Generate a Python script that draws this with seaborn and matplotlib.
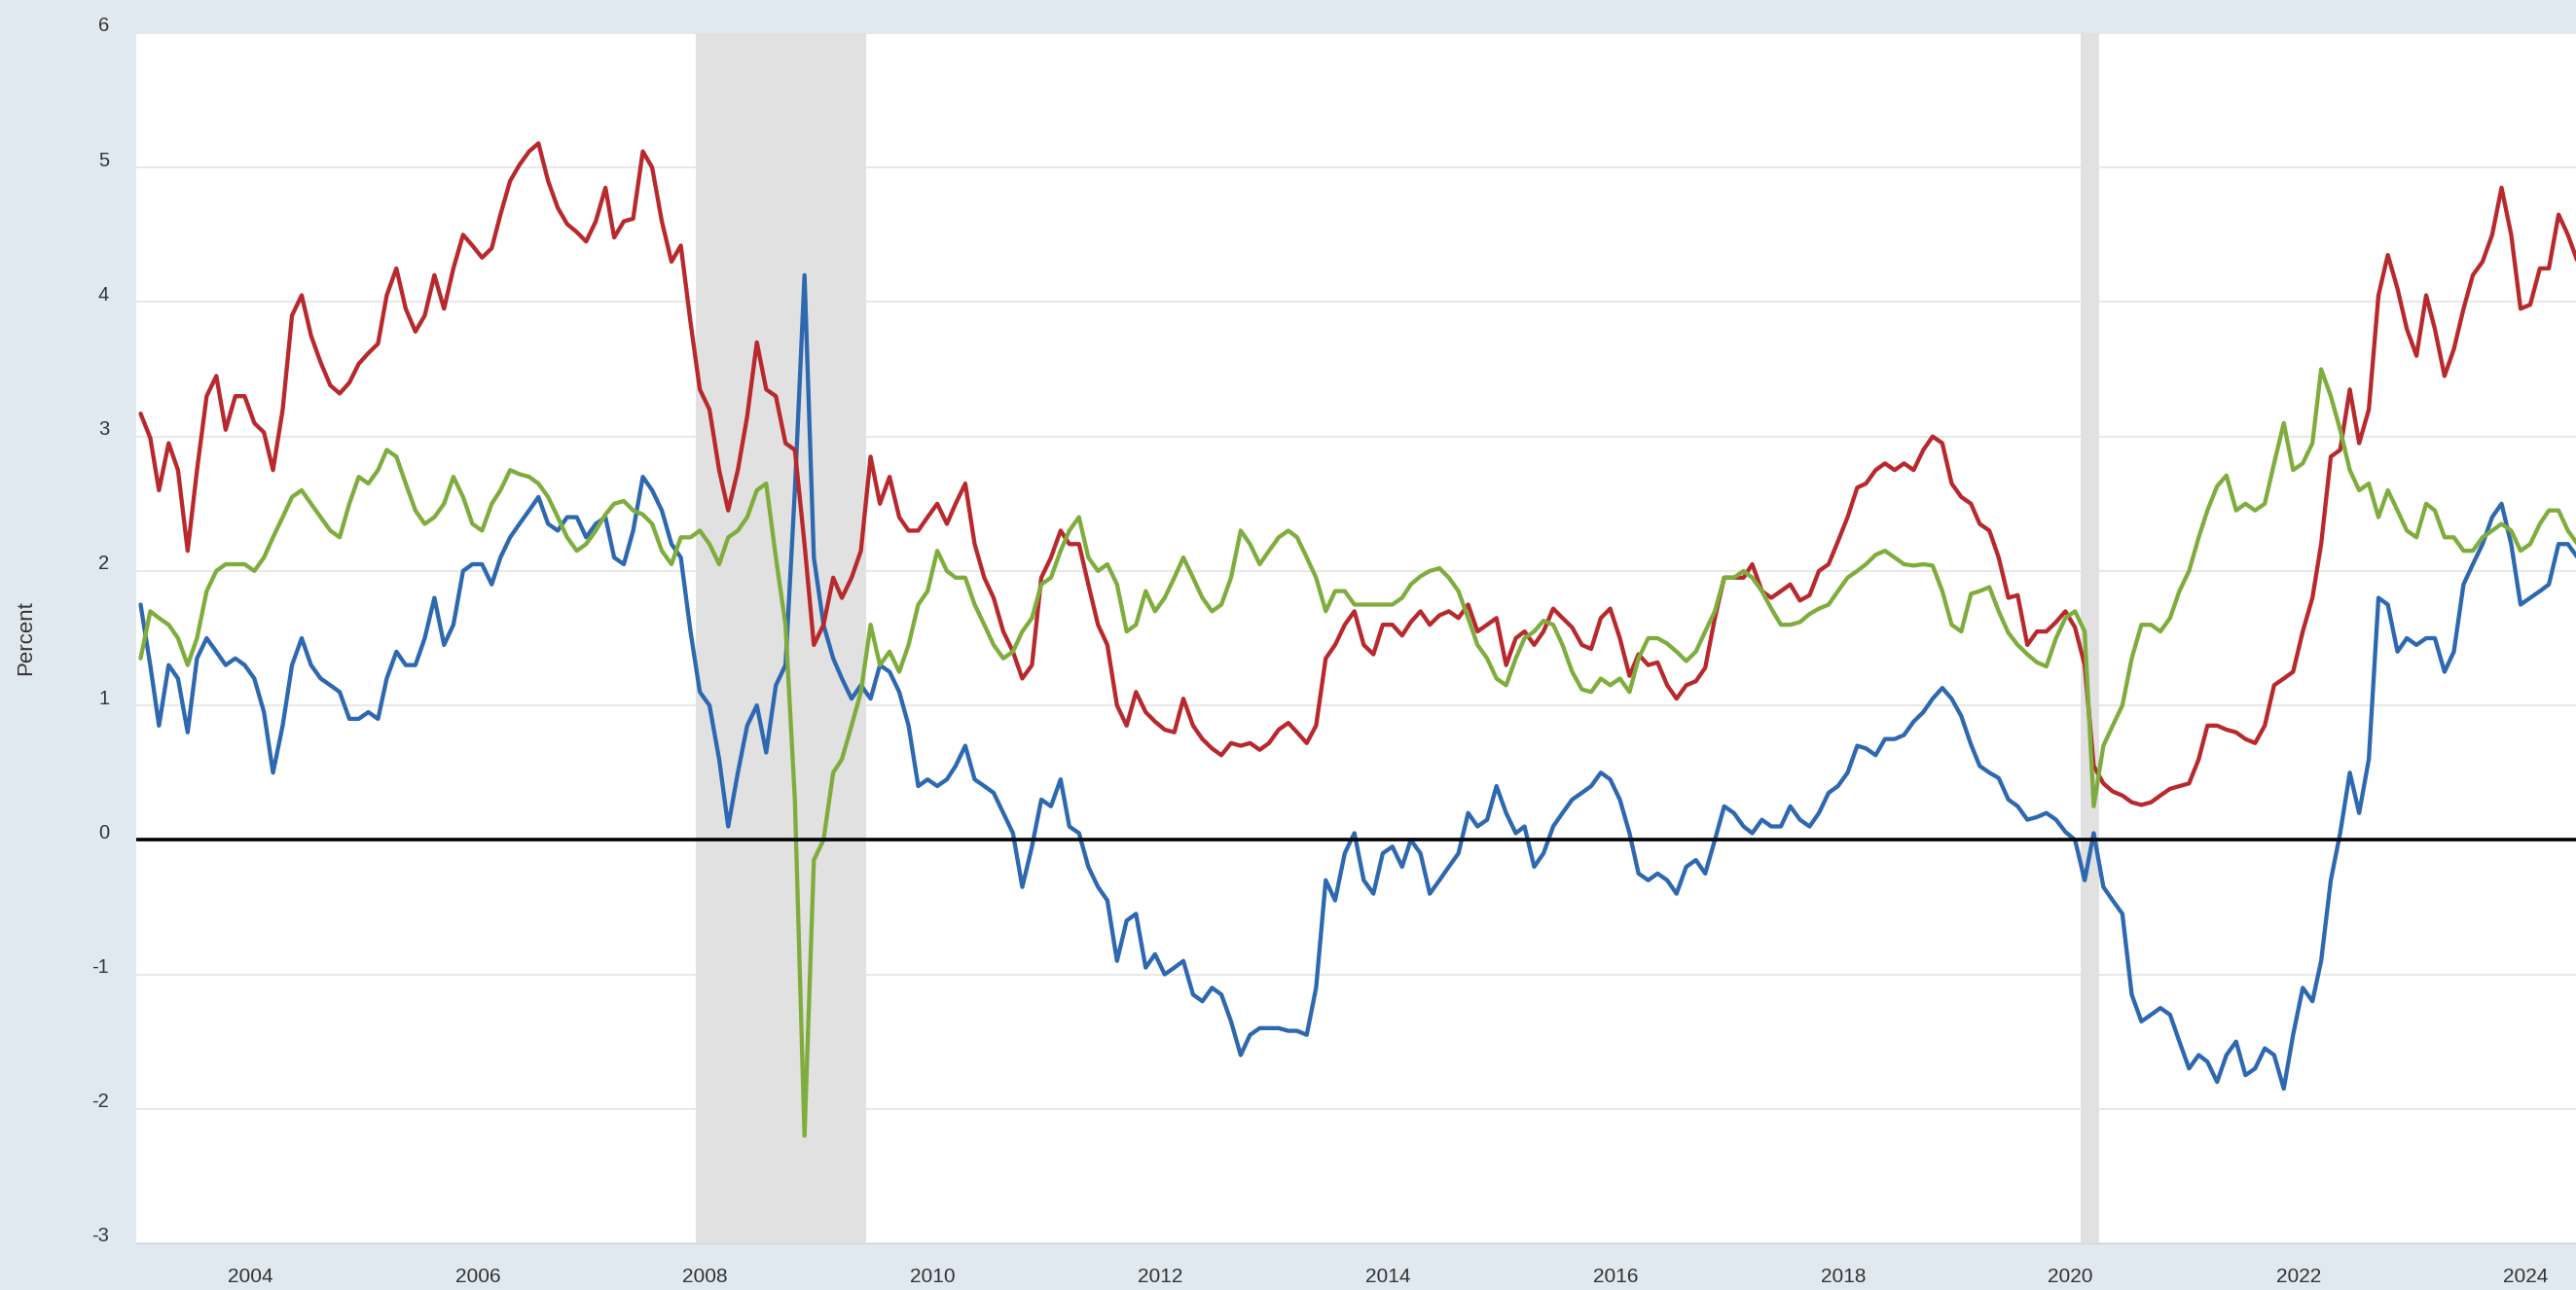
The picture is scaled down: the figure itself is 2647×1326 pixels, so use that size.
import pandas as pd
import matplotlib
matplotlib.use("Agg")
import matplotlib.pyplot as plt
from matplotlib.transforms import ScaledTranslation
import seaborn as sns

# ---- data (monthly readings, percent) ----
nominal_5y = [
    3.17, 2.99, 2.60, 2.95, 2.75, 2.15, 2.75, 3.30, 3.45, 3.05, 3.30, 3.30,  # 2003
    3.10, 3.03, 2.75, 3.20, 3.90, 4.05, 3.75, 3.55, 3.38, 3.32, 3.40, 3.54,  # 2004
    3.62, 3.69, 4.05, 4.25, 3.95, 3.78, 3.90, 4.20, 3.95, 4.25, 4.50, 4.42,  # 2005
    4.33, 4.40, 4.65, 4.90, 5.02, 5.12, 5.18, 4.90, 4.70, 4.58, 4.52, 4.45,  # 2006
    4.60, 4.85, 4.48, 4.60, 4.62, 5.12, 5.00, 4.60, 4.30, 4.42, 3.85, 3.35,  # 2007
    3.20, 2.75, 2.45, 2.75, 3.15, 3.70, 3.35, 3.30, 2.95, 2.90, 2.20, 1.45,  # 2008
    1.60, 1.95, 1.80, 1.95, 2.15, 2.85, 2.50, 2.70, 2.40, 2.30, 2.30, 2.40,  # 2009
    2.50, 2.35, 2.50, 2.65, 2.20, 1.95, 1.80, 1.55, 1.40, 1.20, 1.30, 1.95,  # 2010
    2.10, 2.30, 2.20, 2.20, 1.90, 1.60, 1.45, 1.00, 0.85, 1.10, 0.95, 0.88,  # 2011
    0.82, 0.80, 1.05, 0.85, 0.75, 0.68, 0.63, 0.72, 0.70, 0.72, 0.67, 0.72,  # 2012
    0.82, 0.87, 0.80, 0.72, 0.85, 1.35, 1.45, 1.60, 1.70, 1.45, 1.38, 1.60,  # 2013
    1.60, 1.52, 1.62, 1.70, 1.60, 1.67, 1.70, 1.65, 1.75, 1.55, 1.60, 1.65,  # 2014
    1.30, 1.50, 1.55, 1.45, 1.55, 1.72, 1.65, 1.58, 1.45, 1.42, 1.65, 1.72,  # 2015
    1.50, 1.22, 1.38, 1.30, 1.32, 1.15, 1.05, 1.15, 1.18, 1.28, 1.65, 1.95,  # 2016
    1.95, 1.95, 2.05, 1.85, 1.80, 1.85, 1.90, 1.78, 1.82, 2.00, 2.05, 2.22,  # 2017
    2.40, 2.62, 2.65, 2.75, 2.80, 2.75, 2.80, 2.75, 2.90, 3.00, 2.95, 2.65,  # 2018
    2.55, 2.50, 2.35, 2.30, 2.10, 1.80, 1.82, 1.45, 1.55, 1.55, 1.62, 1.70,  # 2019
    1.58, 1.30, 0.55, 0.42, 0.36, 0.33, 0.28, 0.26, 0.28, 0.33, 0.38, 0.40,  # 2020
    0.42, 0.60, 0.85, 0.85, 0.82, 0.80, 0.75, 0.72, 0.85, 1.15, 1.20, 1.25,  # 2021
    1.55, 1.80, 2.20, 2.85, 2.90, 3.35, 2.95, 3.20, 4.05, 4.35, 4.10, 3.80,  # 2022
    3.60, 4.05, 3.80, 3.45, 3.65, 3.95, 4.20, 4.30, 4.50, 4.85, 4.50, 3.95,  # 2023
    3.98, 4.25, 4.25, 4.65, 4.50, 4.30,                                      # 2024
]

tips_5y = [
    1.75, 1.30, 0.85, 1.30, 1.20, 0.80, 1.35, 1.50, 1.40, 1.30, 1.35, 1.30,
    1.20, 0.95, 0.50, 0.85, 1.30, 1.50, 1.30, 1.20, 1.15, 1.10, 0.90, 0.90,
    0.95, 0.90, 1.20, 1.40, 1.30, 1.30, 1.50, 1.80, 1.45, 1.60, 2.00, 2.05,
    2.05, 1.90, 2.10, 2.25, 2.35, 2.45, 2.55, 2.35, 2.30, 2.40, 2.40, 2.25,
    2.35, 2.40, 2.10, 2.05, 2.30, 2.70, 2.60, 2.45, 2.20, 2.10, 1.55, 1.10,
    1.00, 0.60, 0.10, 0.50, 0.85, 1.00, 0.65, 1.15, 1.30, 2.60, 4.20, 2.10,
    1.60, 1.35, 1.20, 1.05, 1.15, 1.05, 1.30, 1.25, 1.10, 0.85, 0.40, 0.45,
    0.40, 0.45, 0.55, 0.70, 0.45, 0.40, 0.35, 0.20, 0.05, -0.35, -0.05, 0.30,
    0.25, 0.45, 0.10, 0.05, -0.20, -0.35, -0.45, -0.90, -0.60, -0.55, -0.95, -0.85,
    -1.00, -0.95, -0.90, -1.15, -1.20, -1.10, -1.15, -1.35, -1.60, -1.45, -1.40, -1.40,
    -1.40, -1.42, -1.42, -1.45, -1.10, -0.30, -0.45, -0.10, 0.05, -0.30, -0.40, -0.10,
    -0.05, -0.20, 0.00, -0.10, -0.40, -0.30, -0.20, -0.10, 0.20, 0.10, 0.15, 0.40,
    0.20, 0.05, 0.10, -0.20, -0.10, 0.10, 0.20, 0.30, 0.35, 0.40, 0.50, 0.45,
    0.30, 0.05, -0.25, -0.30, -0.25, -0.30, -0.40, -0.20, -0.15, -0.25, 0.00, 0.25,
    0.20, 0.10, 0.05, 0.15, 0.10, 0.10, 0.25, 0.15, 0.10, 0.20, 0.35, 0.40,
    0.50, 0.70, 0.68, 0.63, 0.75, 0.75, 0.78, 0.88, 0.95, 1.05, 1.13, 1.05,
    0.92, 0.71, 0.55, 0.50, 0.46, 0.30, 0.25, 0.15, 0.17, 0.20, 0.15, 0.06,
    0.00, -0.30, 0.05, -0.35, -0.45, -0.55, -1.15, -1.35, -1.30, -1.25, -1.30, -1.50,
    -1.70, -1.60, -1.65, -1.80, -1.60, -1.50, -1.75, -1.70, -1.55, -1.60, -1.85, -1.45,
    -1.10, -1.20, -0.90, -0.30, 0.05, 0.50, 0.20, 0.60, 1.80, 1.75, 1.40, 1.50,
    1.45, 1.50, 1.50, 1.25, 1.40, 1.90, 2.05, 2.20, 2.40, 2.50, 2.20, 1.75,
    1.80, 1.85, 1.90, 2.20, 2.20, 2.10,
]

breakeven_5y = [
    1.35, 1.70, 1.65, 1.60, 1.50, 1.30, 1.50, 1.85, 2.00, 2.05, 2.05, 2.05,
    2.00, 2.10, 2.25, 2.40, 2.55, 2.60, 2.50, 2.40, 2.30, 2.25, 2.50, 2.70,
    2.65, 2.75, 2.90, 2.85, 2.65, 2.45, 2.35, 2.40, 2.50, 2.70, 2.55, 2.35,
    2.30, 2.50, 2.60, 2.75, 2.72, 2.70, 2.65, 2.55, 2.40, 2.25, 2.15, 2.20,
    2.30, 2.42, 2.50, 2.52, 2.45, 2.42, 2.35, 2.15, 2.05, 2.25, 2.25, 2.30,
    2.20, 2.05, 2.25, 2.30, 2.40, 2.60, 2.65, 2.10, 1.60, 0.30, -2.20, -0.15,
    0.00, 0.50, 0.60, 0.85, 1.10, 1.60, 1.30, 1.40, 1.25, 1.45, 1.75, 1.85,
    2.15, 2.00, 1.95, 1.95, 1.75, 1.60, 1.45, 1.35, 1.40, 1.55, 1.65, 1.90,
    1.95, 2.15, 2.30, 2.40, 2.10, 2.00, 2.05, 1.90, 1.55, 1.60, 1.85, 1.70,
    1.80, 1.95, 2.10, 1.95, 1.80, 1.70, 1.75, 1.95, 2.30, 2.20, 2.05, 2.15,
    2.25, 2.30, 2.25, 2.10, 1.95, 1.70, 1.85, 1.85, 1.75, 1.75, 1.75, 1.75,
    1.75, 1.80, 1.90, 1.96, 2.00, 2.02, 1.95, 1.85, 1.65, 1.45, 1.35, 1.20,
    1.15, 1.35, 1.50, 1.55, 1.63, 1.60, 1.45, 1.25, 1.12, 1.10, 1.20, 1.15,
    1.20, 1.10, 1.35, 1.50, 1.50, 1.46, 1.40, 1.33, 1.40, 1.55, 1.70, 1.95,
    1.95, 2.00, 1.95, 1.85, 1.72, 1.60, 1.60, 1.62, 1.68, 1.72, 1.75, 1.85,
    1.95, 2.00, 2.05, 2.12, 2.15, 2.10, 2.05, 2.04, 2.05, 2.04, 1.85, 1.60,
    1.55, 1.83, 1.85, 1.88, 1.70, 1.54, 1.45, 1.38, 1.32, 1.29, 1.50, 1.65,
    1.70, 1.55, 0.25, 0.70, 0.85, 1.00, 1.35, 1.60, 1.60, 1.55, 1.65, 1.85,
    2.00, 2.25, 2.45, 2.63, 2.71, 2.45, 2.50, 2.45, 2.50, 2.80, 3.10, 2.75,
    2.80, 2.95, 3.50, 3.30, 3.05, 2.75, 2.60, 2.65, 2.40, 2.60, 2.45, 2.30,
    2.25, 2.50, 2.45, 2.25, 2.25, 2.15, 2.15, 2.25, 2.30, 2.35, 2.30, 2.15,
    2.20, 2.35, 2.45, 2.45, 2.30, 2.20,
]

series_names = ["5-Year TIPS", "5-Year Treasury", "5-Year Breakeven"]
series_colors = ["#2d68b0", "#b8292d", "#7fad3d"]
recessions = [("2007-12-01", "2009-06-01"), ("2020-02-01", "2020-04-01")]
y_ticks = [-3, -2, -1, 0, 1, 2, 3, 4, 5, 6]
x_tick_years = [2004, 2006, 2008, 2010, 2012, 2014, 2016, 2018, 2020, 2022, 2024]

dates = pd.date_range("2003-01-01", "2024-06-01", freq="MS") + pd.Timedelta(days=14)

df = pd.concat([
    pd.DataFrame({"date": dates, "value": tips_5y, "series": series_names[0]}),
    pd.DataFrame({"date": dates, "value": nominal_5y, "series": series_names[1]}),
    pd.DataFrame({"date": dates, "value": breakeven_5y, "series": series_names[2]}),
], ignore_index=True)

# ---- style ----
sns.set_theme(style="white")
plt.rcParams["font.family"] = ["Liberation Sans", "DejaVu Sans"]
plt.rcParams["axes.unicode_minus"] = False

W, H = 2647, 1326
fig = plt.figure(figsize=(W / 100, H / 100), dpi=100, facecolor="#e1e9f0")
ax = fig.add_axes([140 / W, 48 / H, (W - 140) / W, (1278 - 34) / H])
ax.set_facecolor("white")

for start, end in recessions:
    ax.axvspan(pd.Timestamp(start), pd.Timestamp(end), color="#e1e1e1", lw=0, zorder=1)

ax.set_axisbelow(True)
ax.yaxis.grid(True, color="#e4e4e4", lw=1.2)
ax.xaxis.grid(False)

sns.lineplot(data=df, x="date", y="value", hue="series", hue_order=series_names,
             palette=series_colors, linewidth=3.1, legend=False, ax=ax, zorder=3)

ax.axhline(0, color="black", lw=2.6, zorder=4)

ax.set_ylim(-3, 6)
ax.set_xlim(pd.Timestamp("2003-01-01"), pd.Timestamp("2024-06-10"))
ax.set_yticks(y_ticks)
ax.set_yticklabels([str(v) for v in y_ticks])
ax.set_xticks([pd.Timestamp(f"{y}-01-01") for y in x_tick_years])
ax.set_xticklabels([str(y) for y in x_tick_years])

ax.tick_params(axis="x", length=14, width=1, color="#ccd6eb", pad=4,
               labelsize=15, labelcolor="#333333")
ax.tick_params(axis="y", length=0, pad=20, labelsize=14.5, labelcolor="#333333")

offset = ScaledTranslation(0, 9 / 100, fig.dpi_scale_trans)
for lbl in ax.get_yticklabels():
    lbl.set_transform(lbl.get_transform() + offset)

for side in ["top", "right", "left"]:
    ax.spines[side].set_visible(False)
ax.spines["bottom"].set_color("#ccd6eb")
ax.spines["bottom"].set_linewidth(1)

ax.set_xlabel("")
ax.set_ylabel("Percent", fontsize=16, color="#333333")
ax.yaxis.set_label_coords((37 - 140) / (W - 140), 0.5)

fig.savefig("out.png", dpi=100, facecolor=fig.get_facecolor())
